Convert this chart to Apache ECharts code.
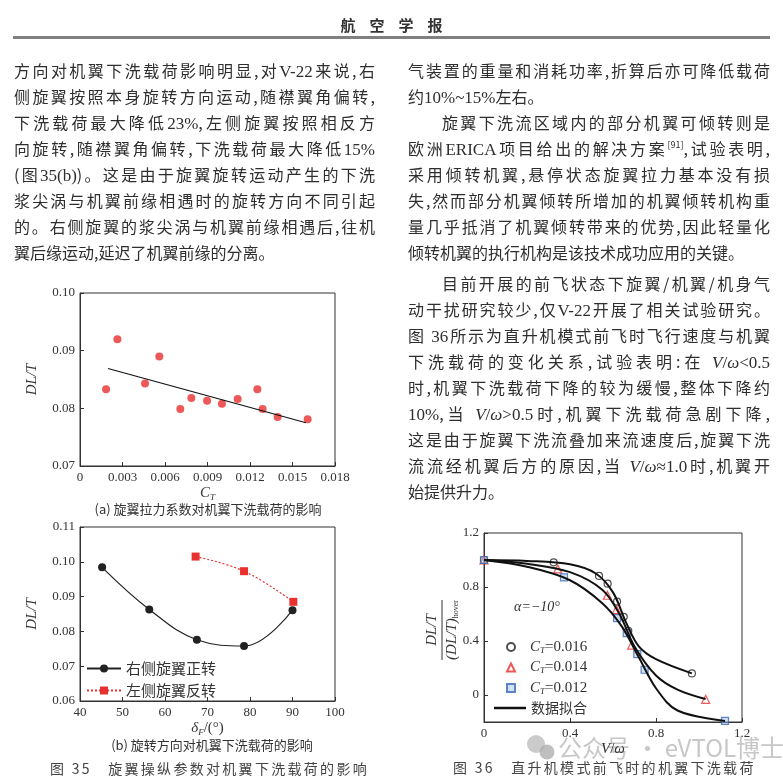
<!DOCTYPE html>
<html>
<head>
<meta charset="utf-8">
<script src="https://cdn.jsdelivr.net/npm/echarts@6/dist/echarts.min.js"></script>
<style>
  html, body { margin: 0; padding: 0; background: #fff; }
  #page { position: relative; width: 783px; height: 781px; overflow: hidden; }
  #chart { position: absolute; left: 0; top: 0; width: 783px; height: 781px; }
  .ln { position: absolute; height: 20px; line-height: 20px; font-size: 16px; color: #2e2e2e;
        font-family: "Noto Sans CJK SC", sans-serif; white-space: nowrap;
        text-align: justify; text-align-last: justify; }
  .ln.last { text-align: left; text-align-last: left; }
  .ln .lat { font-family: "Liberation Serif", serif; font-size: 17px; }
  .ln sup { font-size: 9px; line-height: 0; vertical-align: 7px; }
  .head { position: absolute; left: 0; width: 783px; top: 14px; text-align: center; padding-left: 14px;
          box-sizing: border-box; font-family: "Noto Sans CJK SC", sans-serif; font-weight: bold; font-size: 15px;
          letter-spacing: 14px; color: #333; }
  .rule { position: absolute; left: 13px; top: 36px; width: 757px; height: 3px; background: #808080; }
  .cap { position: absolute; font-family: "Noto Sans CJK SC", sans-serif; font-size: 14px; color: #444;
         white-space: nowrap; letter-spacing: 2.3px; }
</style>
</head>
<body>
<div id="page">
  <div id="chart"></div>
  <div class="head">航空学报</div>
  <div class="rule"></div>
  <div id="text"></div>
  <div class="cap" style="left:50px;top:758px;">图 35&nbsp;&nbsp;&nbsp;旋翼操纵参数对机翼下洗载荷的影响</div>
  <div class="cap" style="left:453px;top:757px;">图 36&nbsp;&nbsp;&nbsp;直升机模式前飞时的机翼下洗载荷</div>
</div>
<script>
// ---- body text lines ----
var leftLines = [
  '方向对机翼下洗载荷影响明显,对<span class="lat">V-22</span>来说,右',
  '侧旋翼按照本身旋转方向运动,随襟翼角偏转,',
  '下洗载荷最大降低<span class="lat">23%</span>,左侧旋翼按照相反方',
  '向旋转,随襟翼角偏转,下洗载荷最大降低<span class="lat">15%</span>',
  '(图<span class="lat">35(b)</span>)。这是由于旋翼旋转运动产生的下洗',
  '浆尖涡与机翼前缘相遇时的旋转方向不同引起',
  '的。右侧旋翼的浆尖涡与机翼前缘相遇后,往机',
  '翼后缘运动,延迟了机翼前缘的分离。'
];
var leftY = [70, 96, 122, 148, 174, 200, 226, 252];
var rightLines = [
  '气装置的重量和消耗功率,折算后亦可降低载荷',
  '约<span class="lat">10%~15%</span>左右。',
  '旋翼下洗流区域内的部分机翼可倾转则是',
  '欧洲<span class="lat">ERICA</span>项目给出的解决方案<sup>[91]</sup>,试验表明,',
  '采用倾转机翼,悬停状态旋翼拉力基本没有损',
  '失,然而部分机翼倾转所增加的机翼倾转机构重',
  '量几乎抵消了机翼倾转带来的优势,因此轻量化',
  '倾转机翼的执行机构是该技术成功应用的关键。',
  '目前开展的前飞状态下旋翼/机翼/机身气',
  '动干扰研究较少,仅<span class="lat">V-22</span>开展了相关试验研究。',
  '图 <span class="lat">36</span>所示为直升机模式前飞时飞行速度与机翼',
  '下洗载荷的变化关系,试验表明:在 <span class="lat"><i>V</i>/<i>ω</i>&lt;0.5</span>',
  '时,机翼下洗载荷下降的较为缓慢,整体下降约',
  '<span class="lat">10%</span>,当 <span class="lat"><i>V</i>/<i>ω</i>&gt;0.5</span>时,机翼下洗载荷急剧下降,',
  '这是由于旋翼下洗流叠加来流速度后,旋翼下洗',
  '流流经机翼后方的原因,当 <span class="lat"><i>V</i>/<i>ω</i>≈1.0</span>时,机翼开',
  '始提供升力。'
];
var rightY = [70, 96, 122, 148, 174, 200, 226, 252, 283, 309, 335, 361, 387, 413, 439, 465, 491];
var rightIndent = [2, 8];
var rightLast = [1, 7, 16];

(function () {
  var box = document.getElementById('text');
  function put(html, x, y, w, last) {
    var d = document.createElement('div');
    d.className = 'ln' + (last ? ' last' : '');
    d.style.left = x + 'px';
    d.style.top = (y - 10) + 'px';
    d.style.width = w + 'px';
    d.innerHTML = html;
    box.appendChild(d);
  }
  leftLines.forEach(function (s, i) { put(s, 14, leftY[i], 361, i === leftLines.length - 1); });
  rightLines.forEach(function (s, i) {
    var ind = rightIndent.indexOf(i) >= 0 ? 34 : 0;
    put(s, 408 + ind, rightY[i], 362 - ind, rightLast.indexOf(i) >= 0);
  });
})();

// ---- chart data ----
// (a) thrust coefficient vs DL/T
var ctA = [0.00184, 0.00264, 0.00459, 0.0056, 0.00708, 0.00786, 0.00897, 0.01002, 0.01113, 0.01252, 0.01289, 0.01395, 0.01607];
var dltA = [0.0833, 0.0920, 0.0843, 0.0890, 0.0799, 0.0818, 0.0813, 0.0808, 0.0816, 0.0833, 0.0799, 0.0785, 0.0781];
var trendCt = [0.00198, 0.01595];
var trendDlt = [0.0869, 0.0775];

// (b) flap angle vs DL/T
var flapRight = [45.2, 56.3, 67.5, 78.6, 90.0];
var dltRight = [0.0984, 0.0863, 0.0776, 0.0758, 0.0861];
var flapLeft = [67.2, 78.6, 90.2];
var dltLeft = [0.1015, 0.0973, 0.0885];

// fig 36: V/omega vs normalised DL/T
var vw016 = [0, 0.324, 0.535, 0.575, 0.619, 0.650, 0.671, 0.967];
var r016 = [1.0, 0.983, 0.882, 0.825, 0.692, 0.579, 0.476, 0.160];
var vw014 = [0, 0.343, 0.574, 0.616, 0.687, 1.031];
var r014 = [1.0, 0.934, 0.739, 0.633, 0.370, -0.032];
var vw012 = [0, 0.372, 0.619, 0.664, 0.713, 0.747, 1.121];
var r012 = [1.0, 0.872, 0.569, 0.458, 0.303, 0.187, -0.192];
// fitted curves
var fit016x = [0, 0.2, 0.4, 0.52, 0.6, 0.66, 0.72, 0.8, 0.967];
var fit016y = [1.0, 0.993, 0.968, 0.90, 0.76, 0.54, 0.36, 0.265, 0.160];
var fit014x = [0, 0.2, 0.4, 0.55, 0.63, 0.7, 0.8, 0.9, 1.031];
var fit014y = [1.0, 0.972, 0.91, 0.78, 0.60, 0.36, 0.145, 0.04, -0.030];
var fit012x = [0, 0.2, 0.4, 0.55, 0.64, 0.72, 0.8, 0.9, 1.121];
var fit012y = [1.0, 0.95, 0.85, 0.68, 0.51, 0.28, 0.05, -0.115, -0.192];

var yTicks36 = [0, 0.4, 0.8, 1.2];

function zip(xs, ys) { return xs.map(function (x, i) { return [x, ys[i]]; }); }

var AX = '#333';
var serif = 'Liberation Serif';
var nameRich = {
  i: { fontFamily: serif, fontStyle: 'italic', fontSize: 15, color: '#333' },
  s: { fontFamily: serif, fontStyle: 'italic', fontSize: 9, color: '#333', padding: [9, 0, 0, 0] },
  n: { fontFamily: serif, fontSize: 15, color: '#333' }
};
var legRich = {
  i: { fontFamily: serif, fontStyle: 'italic', fontSize: 15, color: '#333', lineHeight: 16 },
  s: { fontFamily: serif, fontStyle: 'italic', fontSize: 9, color: '#333', lineHeight: 16, padding: [7, 0, 0, 0] },
  n: { fontFamily: serif, fontSize: 15, color: '#333', lineHeight: 16 }
};

function axis(grid, min, max, interval, fmt, extra) {
  var a = {
    type: 'value', gridIndex: grid, min: min, max: max, interval: interval,
    axisLine: { show: true, onZero: false, lineStyle: { color: AX, width: 1 } },
    axisTick: { show: true, inside: true, length: 4, lineStyle: { color: AX } },
    axisLabel: { fontFamily: serif, fontSize: 13, color: '#333', margin: 5, formatter: fmt },
    splitLine: { show: false }
  };
  for (var k in extra) a[k] = extra[k];
  return a;
}

var chart = echarts.init(document.getElementById('chart'));
chart.setOption({
  animation: false,
  grid: [
    { left: 80, top: 293, width: 255, height: 173, show: true, borderColor: AX, borderWidth: 1 },
    { left: 80, top: 527, width: 255, height: 174, show: true, borderColor: AX, borderWidth: 1 },
    { left: 484, top: 533, width: 258, height: 189, show: true, borderColor: AX, borderWidth: 1 }
  ],
  xAxis: [
    axis(0, 0, 0.018, 0.003, function (v) { return v === 0 ? '0' : v.toFixed(3); },
      { name: '{i|C}{s|T}', nameLocation: 'middle', nameGap: 18, nameTextStyle: { rich: nameRich } }),
    axis(1, 40, 100, 10, function (v) { return String(v); },
      { name: '{i|δ}{s|F}{n|/(°)}', nameLocation: 'middle', nameGap: 18, nameTextStyle: { rich: nameRich } }),
    axis(2, 0, 1.2, 0.4, function (v) { return v === 0 ? '0' : v.toFixed(1); },
      { name: '{i|V}{n|/}{i|ω}', nameLocation: 'middle', nameGap: 20, nameTextStyle: { rich: nameRich } })
  ],
  yAxis: [
    axis(0, 0.07, 0.10, 0.01, function (v) { return v.toFixed(2); },
      { name: 'DL/T', nameLocation: 'middle', nameGap: 40, nameRotate: 90,
        nameTextStyle: { fontFamily: serif, fontStyle: 'italic', fontSize: 15, color: '#333' } }),
    axis(1, 0.06, 0.11, 0.01, function (v) { return v.toFixed(2); },
      { name: 'DL/T', nameLocation: 'middle', nameGap: 40, nameRotate: 90,
        nameTextStyle: { fontFamily: serif, fontStyle: 'italic', fontSize: 15, color: '#333' } }),
    (function () {
      var a = axis(2, -0.2, 1.2, 0.2, function (v) { return Math.abs(v) < 1e-9 ? '0' : v.toFixed(1); }, {});
      a.axisLabel.customValues = yTicks36;
      a.axisTick.customValues = yTicks36;
      return a;
    })()
  ],
  legend: [
    {
      data: ['右侧旋翼正转', '左侧旋翼反转'], orient: 'vertical', left: 86, top: 661,
      itemWidth: 34, itemHeight: 10, itemGap: 7, padding: 0, selectedMode: false,
      textStyle: { fontFamily: 'Noto Sans CJK SC', fontSize: 15, color: '#333' }
    },
    {
      data: [
        { name: 'CT=0.016', icon: 'circle' },
        { name: 'CT=0.014', icon: 'triangle' },
        { name: 'CT=0.012', icon: 'rect' }
      ],
      orient: 'vertical', left: 506, top: 639,
      itemWidth: 8, itemHeight: 8, itemGap: 4.5, padding: 0, selectedMode: false,
      formatter: function (n) { return '{i|C}{s|T}{n|' + n.slice(2) + '}'; },
      textStyle: { padding: [0, 0, 0, 10], lineHeight: 16, rich: legRich }
    },
    {
      data: [{ name: '数据拟合', icon: 'rect' }], orient: 'vertical', left: 494, top: 701,
      itemWidth: 32, itemHeight: 2.5, padding: 0, selectedMode: false,
      textStyle: { fontFamily: 'Noto Sans CJK SC', fontSize: 14, color: '#333' }
    }
  ],
  series: [
    { type: 'scatter', xAxisIndex: 0, yAxisIndex: 0, data: zip(ctA, dltA), symbolSize: 8,
      itemStyle: { color: '#e8302e' } },
    { type: 'line', xAxisIndex: 0, yAxisIndex: 0, data: zip(trendCt, trendDlt), symbol: 'none',
      lineStyle: { color: '#111', width: 1.2 } },

    { name: '右侧旋翼正转', type: 'line', xAxisIndex: 1, yAxisIndex: 1, data: zip(flapRight, dltRight),
      smooth: 0.4, symbol: 'circle', symbolSize: 8,
      itemStyle: { color: '#222' }, lineStyle: { color: '#222', width: 1.2 } },
    { name: '左侧旋翼反转', type: 'line', xAxisIndex: 1, yAxisIndex: 1, data: zip(flapLeft, dltLeft),
      smooth: 0.4, symbol: 'rect', symbolSize: 8,
      itemStyle: { color: '#e8302e' }, lineStyle: { color: '#e8302e', width: 1.2, type: [2, 2] } },

    { name: '数据拟合', type: 'line', xAxisIndex: 2, yAxisIndex: 2, data: zip(fit016x, fit016y),
      smooth: 0.35, symbol: 'none', itemStyle: { color: '#111' }, lineStyle: { color: '#111', width: 2 } },
    { name: '数据拟合', type: 'line', xAxisIndex: 2, yAxisIndex: 2, data: zip(fit014x, fit014y),
      smooth: 0.35, symbol: 'none', itemStyle: { color: '#111' }, lineStyle: { color: '#111', width: 2 } },
    { name: '数据拟合', type: 'line', xAxisIndex: 2, yAxisIndex: 2, data: zip(fit012x, fit012y),
      smooth: 0.35, symbol: 'none', itemStyle: { color: '#111' }, lineStyle: { color: '#111', width: 2 } },
    { name: 'CT=0.016', type: 'scatter', xAxisIndex: 2, yAxisIndex: 2, data: zip(vw016, r016),
      symbol: 'circle', symbolSize: 7, itemStyle: { color: 'rgba(255,255,255,0)', borderColor: '#222', borderWidth: 1.2 } },
    { name: 'CT=0.014', type: 'scatter', xAxisIndex: 2, yAxisIndex: 2, data: zip(vw014, r014),
      symbol: 'triangle', symbolSize: 8, itemStyle: { color: 'rgba(255,255,255,0)', borderColor: '#e8302e', borderWidth: 1.2 } },
    { name: 'CT=0.012', type: 'scatter', xAxisIndex: 2, yAxisIndex: 2, data: zip(vw012, r012),
      symbol: 'rect', symbolSize: 7, itemStyle: { color: 'rgba(160,190,235,0.6)', borderColor: '#3a69b8', borderWidth: 1.2 } }
  ],
  graphic: [
    { type: 'text', x: 208, y: 509, style: { text: '(a) 旋翼拉力系数对机翼下洗载荷的影响', align: 'center', verticalAlign: 'middle',
      font: '13px "Noto Sans CJK SC"', fill: '#333' } },
    { type: 'text', x: 212, y: 745, style: { text: '(b) 旋转方向对机翼下洗载荷的影响', align: 'center', verticalAlign: 'middle',
      font: '13px "Noto Sans CJK SC"', fill: '#333' } },
    { type: 'text', x: 537, y: 607, style: { text: 'α=−10°', align: 'center', verticalAlign: 'middle',
      font: 'italic 14px "Liberation Serif"', fill: '#333' } },
    // y-axis title of fig 36 as a fraction
    { type: 'group', x: 442, y: 630, rotation: Math.PI / 2, children: [
      { type: 'line', shape: { x1: -30, y1: 0, x2: 30, y2: 0 }, style: { stroke: '#333', lineWidth: 1 } },
      { type: 'text', x: 0, y: -2, style: { text: 'DL/T', align: 'center', verticalAlign: 'bottom',
        font: 'italic 15px "Liberation Serif"', fill: '#333' } },
      { type: 'text', x: 0, y: 2, style: { text: '{i|(DL/T)}{s|hover}', align: 'center', verticalAlign: 'top',
        rich: { i: { fontFamily: serif, fontStyle: 'italic', fontSize: 15, fill: '#333' },
                s: { fontFamily: serif, fontSize: 8, fill: '#333', padding: [8, 0, 0, 0] } } } }
    ] },
    // watermark
    { type: 'circle', shape: { cx: 536, cy: 744, r: 9 }, style: { fill: 'rgba(185,185,185,0.75)' } },
    { type: 'circle', shape: { cx: 547, cy: 752, r: 7.5 }, style: { fill: 'rgba(170,170,170,0.75)' } },
    { type: 'text', x: 558, y: 748, style: { text: '公众号 · eVTOL博士', align: 'left', verticalAlign: 'middle',
      font: '24px "Noto Sans CJK SC"', fill: 'rgba(185,185,185,0.8)' } }
  ]
});
</script>
</body>
</html>
